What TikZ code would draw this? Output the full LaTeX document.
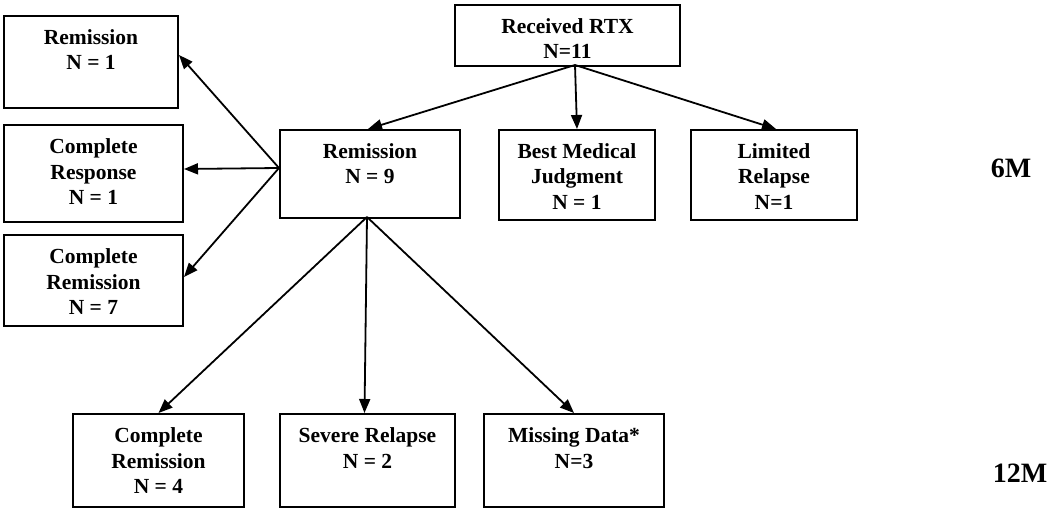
\documentclass[tikz,border=0pt]{standalone}
\usepackage{fontspec}
\setmainfont{Liberation Serif}
\usetikzlibrary{arrows.meta}
\tikzset{
  box/.style={draw, line width=2pt, inner sep=0pt, anchor=north west,
    font=\fontsize{21.5}{25.5}\selectfont\bfseries},
  arr/.style={line width=1.8pt, -{Triangle[length=14pt,width=11pt]}},
  lbl/.style={font=\fontsize{28}{32}\selectfont\bfseries, anchor=base, inner sep=0pt}
}
\newcommand{\btext}[3]{\parbox[t][#2pt][t]{#1pt}{\centering\rule{0pt}{28.5pt}#3}}
\begin{document}
\begin{tikzpicture}[x=1pt,y=-1pt]
\useasboundingbox (0,0) rectangle (1050,508);
% top
\node[box] (rtx) at (454,4) {\btext{225}{61}{Received RTX\\N=11}};
% left column
\node[box] (rem1) at (3,15) {\btext{174}{92}{Remission\\N = 1}};
\node[box] (cresp) at (3,124) {\btext{179}{97}{Complete\\Response\\N = 1}};
\node[box] (crem7) at (3,234) {\btext{179}{91}{Complete\\Remission\\N = 7}};
% 6M row
\node[box] (rem9) at (279,129) {\btext{180}{88}{Remission\\N = 9}};
\node[box] (bmj) at (498,129) {\btext{156}{90}{Best Medical\\Judgment\\N = 1}};
\node[box] (lr) at (690,129) {\btext{166}{90}{Limited\\Relapse\\N=1}};
% 12M row
\node[box] (crem4) at (72,413) {\btext{171}{93}{Complete\\Remission\\N = 4}};
\node[box] (sr) at (279,413) {\btext{175}{93}{Severe Relapse\\N = 2}};
\node[box] (md) at (483,413) {\btext{180}{93}{Missing Data*\\N=3}};
% period labels
\node[lbl] (m6) at (1011,178) {6M};
\node[lbl] (m12) at (1020,482) {12M};
% connector origins
\coordinate (rtxo) at (575,65);
\coordinate (rem9l) at (279,168);
\coordinate (rem9b) at (367,217);
% arrows
\draw[arr] (rtxo) -- ([xshift=-2pt]rem9.north);
\draw[arr] (rtxo) -- (bmj.north);
\draw[arr] (rtxo) -- ([xshift=2pt]lr.north);
\draw[arr] (rem9l) -- ([yshift=7pt]rem1.east);
\draw[arr] (rem9l) -- ([yshift=4.5pt]cresp.east);
\draw[arr] (rem9l) -- ([yshift=3.5pt]crem7.east);
\draw[arr] (rem9b) -- (crem4.north);
\draw[arr] (rem9b) -- ([xshift=-3pt]sr.north);
\draw[arr] (rem9b) -- (md.north);
\end{tikzpicture}
\end{document}
